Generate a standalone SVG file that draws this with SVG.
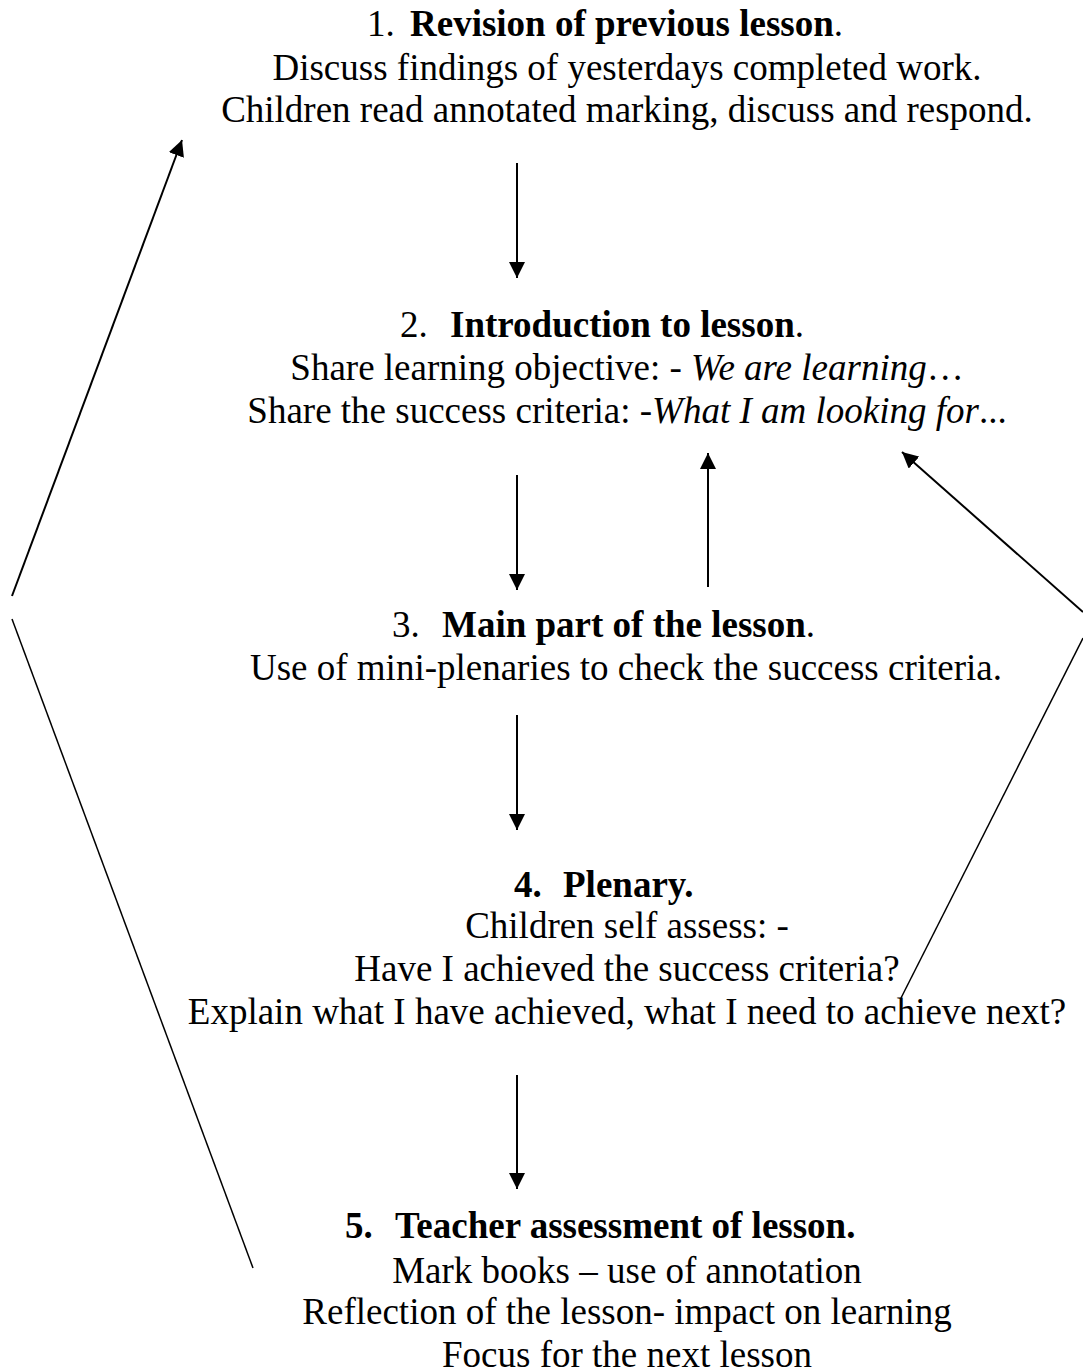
<svg xmlns="http://www.w3.org/2000/svg" width="1083" height="1372" viewBox="0 0 1083 1372">
<defs>
<style>
text{font-family:"Liberation Serif","Times New Roman",serif;font-size:37px;fill:#000}
.c{text-anchor:middle}
.b{font-weight:bold}
.i{font-style:italic}
.ln{stroke:#000;stroke-width:2;fill:none}
.thin{stroke:#000;stroke-width:1.5;fill:none}
</style>
<marker id="ah" markerUnits="userSpaceOnUse" markerWidth="16" markerHeight="16" viewBox="0 0 15 15" refX="15" refY="7.5" orient="auto">
<path d="M0,0 L15,7.5 L0,15 z" fill="#000"/>
</marker>
</defs>
<rect width="1083" height="1372" fill="#fff"/>
<g id="n1">
<text x="367" y="36">1.<tspan x="410" class="b">Revision of previous lesson</tspan>.</text>
<text class="c" x="627" y="80">Discuss findings of yesterdays completed work.</text>
<text class="c" x="627" y="122">Children read annotated marking, discuss and respond.</text>
</g>
<g id="n2">
<text x="400" y="337">2.<tspan x="450" class="b">Introduction to lesson</tspan>.</text>
<text class="c" x="627" y="380">Share learning objective: - <tspan class="i">We are learning</tspan>…</text>
<text class="c" x="627" y="423">Share the success criteria: -<tspan class="i">What I am looking for</tspan>...</text>
</g>
<g id="n3">
<text x="392" y="637">3.<tspan x="442" class="b">Main part of the lesson</tspan>.</text>
<text class="c" x="626" y="680">Use of mini-plenaries to check the success criteria.</text>
</g>
<g id="n4">
<text x="514" y="897" class="b">4.<tspan x="563">Plenary.</tspan></text>
<text class="c" x="627" y="938">Children self assess: -</text>
<text class="c" x="627" y="981">Have I achieved the success criteria?</text>
<text class="c" x="627" y="1024">Explain what I have achieved, what I need to achieve next?</text>
</g>
<g id="n5">
<text x="345" y="1238" class="b">5.<tspan x="395">Teacher assessment of lesson.</tspan></text>
<text class="c" x="627" y="1283">Mark books – use of annotation</text>
<text class="c" x="627" y="1324">Reflection of the lesson- impact on learning</text>
<text class="c" x="627" y="1367">Focus for the next lesson</text>
</g>
<g id="connectors">
<line class="ln" x1="517" y1="163" x2="517" y2="278" marker-end="url(#ah)"/>
<line class="ln" x1="517" y1="475" x2="517" y2="590" marker-end="url(#ah)"/>
<line class="ln" x1="708" y1="587" x2="708" y2="453" marker-end="url(#ah)"/>
<line class="ln" x1="1083" y1="612" x2="902" y2="452" marker-end="url(#ah)"/>
<line class="ln" x1="517" y1="715" x2="517" y2="830" marker-end="url(#ah)"/>
<line class="ln" x1="517" y1="1075" x2="517" y2="1189" marker-end="url(#ah)"/>
<line class="ln" x1="12" y1="596" x2="182" y2="140" marker-end="url(#ah)"/>
<line class="thin" x1="12" y1="619" x2="253" y2="1268"/>
<line class="thin" x1="1083" y1="638" x2="901" y2="998"/>
</g>
</svg>
